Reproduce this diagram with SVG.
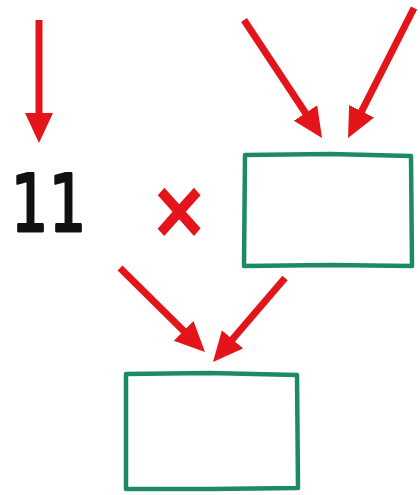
<svg xmlns="http://www.w3.org/2000/svg" width="420" height="495" viewBox="0 0 420 495">
<defs>
<style>
.arrow{stroke:#e3151b;stroke-width:7;fill:none;marker-end:url(#head)}
.box{fill:none;stroke:#1d8a67;stroke-width:4.5;stroke-linejoin:round}
.num{font-family:"DejaVu Sans",sans-serif;fill:#111;stroke:#111;stroke-width:3;stroke-linejoin:round}
.op{font-family:"Liberation Sans",sans-serif;font-weight:bold;fill:#e3151b}
</style>
<marker id="head" viewBox="0 0 30 30" markerUnits="userSpaceOnUse" markerWidth="30" markerHeight="30" refX="4" refY="15" orient="auto">
<path d="M0,1 L30,15 L0,29 z" fill="#e3151b"/>
</marker>
</defs>
<rect width="420" height="495" fill="#ffffff"/>
<g id="connectors">
<line class="arrow" x1="39" y1="20" x2="39" y2="117"/>
<line class="arrow" x1="244" y1="20" x2="307.7" y2="116.3"/>
<line class="arrow" x1="414" y1="8" x2="359.8" y2="114.8"/>
<line class="arrow" x1="120" y1="268" x2="186.5" y2="333.7"/>
<line class="arrow" x1="285" y1="278" x2="229.9" y2="342.3"/>
</g>
<g id="number">
<text class="num" transform="translate(11,231) scale(0.74,1)" x="0" y="0" font-size="79" letter-spacing="1">11</text>
</g>
<g id="times">
<text class="op" transform="translate(179,212) scale(1,1.12)" x="0" y="29" font-size="86" text-anchor="middle">×</text>
</g>
<g id="box-top">
<path class="box" d="M245,155 L330,154 L411,156 L412,266 L330,265 L244,266 Z"/>
</g>
<g id="box-bottom">
<path class="box" d="M126,374 L210,373 L297,375 L298,488 L210,489 L126,489 Z"/>
</g>
</svg>
